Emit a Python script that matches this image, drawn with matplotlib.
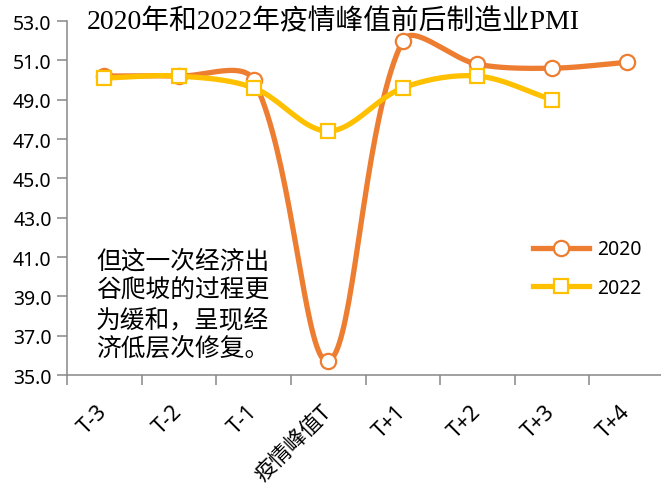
import numpy as np
import matplotlib
matplotlib.use("Agg")
import matplotlib.pyplot as plt
from matplotlib.lines import Line2D
from matplotlib.transforms import ScaledTranslation

plt.rcParams['font.family'] = ['Noto Sans', 'Noto Sans CJK SC', 'DejaVu Sans']

# data
categories = ['T-3', 'T-2', 'T-1', '疫情峰值T', 'T+1', 'T+2', 'T+3', 'T+4']
pmi_2020 = [50.2, 50.2, 50.0, 35.7, 52.0, 50.8, 50.6, 50.9]
pmi_2022 = [50.1, 50.2, 49.6, 47.4, 49.6, 50.2, 49.0]
yticks = [35.0, 37.0, 39.0, 41.0, 43.0, 45.0, 47.0, 49.0, 51.0, 53.0]

ORANGE = '#ED7D31'
YELLOW = '#FFC000'
GRAY = '#888888'


def smooth_curve(ax, xs, ys, n=40):
    # excel-like smoothed line: bezier segments, control points weighted by segment length
    trans = ax.transData
    pts = trans.transform(np.column_stack([xs, ys]))
    ext = np.vstack([pts[0], pts, pts[-1]])
    out = []
    t = np.linspace(0, 1, n)[:, None]
    for i in range(len(pts) - 1):
        p0, p1, p2, p3 = ext[i], ext[i + 1], ext[i + 2], ext[i + 3]
        d01 = np.hypot(*(p1 - p0))
        d12 = np.hypot(*(p2 - p1))
        d23 = np.hypot(*(p3 - p2))
        c1 = p1 + (p2 - p0) / 3 * (d12 / (d01 + d12))
        c2 = p2 - (p3 - p1) / 3 * (d12 / (d12 + d23))
        seg = ((1 - t) ** 3) * p1 + 3 * ((1 - t) ** 2) * t * c1 + 3 * (1 - t) * t ** 2 * c2 + t ** 3 * p2
        out.append(seg)
    out = np.vstack(out)
    back = trans.inverted().transform(out)
    return back[:, 0], back[:, 1]


fig = plt.figure(figsize=(6.61, 4.89), dpi=100)
ax = fig.add_axes([67 / 661, 1 - 376 / 489, 597 / 661, 354 / 489])
ax.set_xlim(-0.5, len(categories) - 0.5)
ax.set_ylim(35, 53)

x20 = np.arange(len(pmi_2020))
x22 = np.arange(len(pmi_2022))

sx, sy = smooth_curve(ax, x20, pmi_2020)
ax.plot(sx, sy, color=ORANGE, lw=3.8, solid_capstyle='round', zorder=2)
ax.plot(x20, pmi_2020, ls='none', marker='o', ms=11, mfc='white', mec=ORANGE, mew=1.6, zorder=3)

sx, sy = smooth_curve(ax, x22, pmi_2022)
ax.plot(sx, sy, color=YELLOW, lw=3.8, solid_capstyle='round', zorder=4)
ax.plot(x22, pmi_2022, ls='none', marker='s', ms=10, mfc='white', mec=YELLOW, mew=1.6, zorder=5)

ax.set_yticks(yticks)
ax.set_yticklabels(['%.1f' % v for v in yticks], fontsize=14)
ax.set_xticks(np.arange(-0.5, len(categories) + 0.5, 1.0))
ax.set_xticklabels([])
ax.set_xticks(np.arange(len(categories)), minor=True)
ax.set_xticklabels(categories, minor=True, fontsize=15.5, rotation=45,
                   ha='right', va='center', rotation_mode='anchor')
shift = ScaledTranslation(-6 / 72, 0, fig.dpi_scale_trans)
for lab in ax.get_xticklabels(minor=True):
    lab.set_transform(lab.get_transform() + shift)
ax.tick_params(axis='x', which='minor', length=0, pad=24)
ax.tick_params(axis='x', which='major', length=7, width=1.1, color=GRAY, direction='out')
ax.tick_params(axis='y', length=7, width=1.1, color=GRAY, pad=4)

for s in ['top', 'right']:
    ax.spines[s].set_visible(False)
for s in ['left', 'bottom']:
    ax.spines[s].set_color(GRAY)
    ax.spines[s].set_linewidth(1.1)

fig.text(0.504, 1 - 22 / 489, '2020年和2022年疫情峰值前后制造业PMI',
         ha='center', va='center', fontsize=20,
         family=['Liberation Serif', 'Noto Sans CJK SC'])

fig.text(96 / 661, 1 - 249 / 489, '但这一次经济出\n谷爬坡的过程更\n为缓和，呈现经\n济低层次修复。',
         ha='left', va='top', fontsize=17.8, linespacing=1.15,
         family=['Noto Sans CJK SC'])

handles = [
    Line2D([], [], color=ORANGE, lw=3.8, marker='o', ms=11, mfc='white', mec=ORANGE, mew=1.6),
    Line2D([], [], color=YELLOW, lw=3.8, marker='s', ms=10, mfc='white', mec=YELLOW, mew=1.6),
]
fig.legend(handles, ['2020', '2022'], loc='upper left', bbox_to_anchor=(515 / 661, 1 - 223 / 489),
           frameon=False, fontsize=14, handlelength=2.9, handletextpad=0.4, labelspacing=0.95)

fig.savefig('out.png', dpi=100)
